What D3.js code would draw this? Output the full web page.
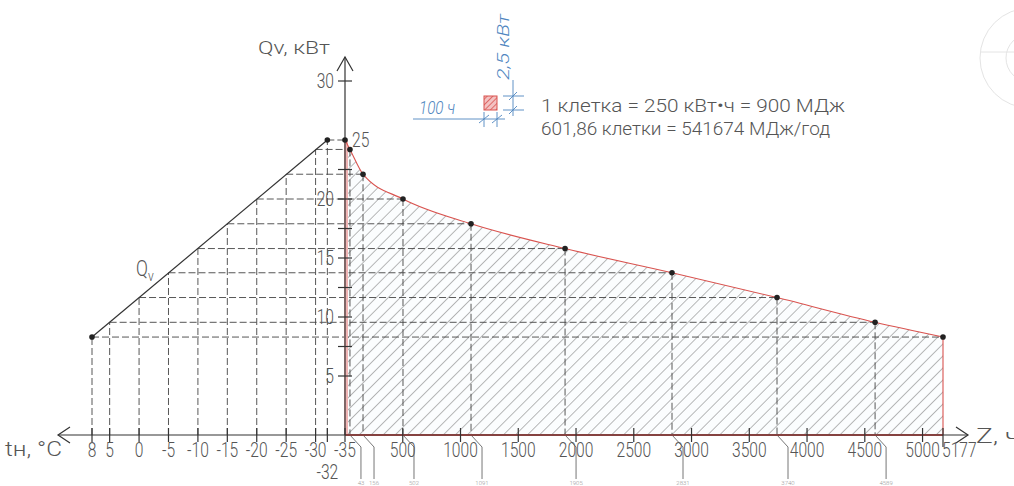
<html>
<head>
  <meta charset="utf-8">
  <script src="https://d3js.org/d3.v7.min.js"></script>
</head>
<style>
  body { margin: 0; background: #fff; }
  text { font-family: "Roboto", "DejaVu Sans", sans-serif; font-weight: 300; fill: #555; }
  .dash { stroke: #444; stroke-width: 0.9; stroke-dasharray: 7,3; fill: none; }
  .axis { stroke: #333; stroke-width: 1.2; fill: none; }
  .blue { fill: #4f86c0; font-style: italic; }
</style>
<body>
  <svg id="chart" width="1014" height="486"></svg>
  <script>
    // values
    const temps = [8, 5, 0, -5, -10, -15, -20, -25, -30, -32];
    const qv = [8.3, 9.55, 11.65, 13.75, 15.8, 17.9, 20.0, 22.1, 24.2, 25.0];
    const hours = [5177, 4589, 3740, 2831, 1905, 1091, 502, 156, 43, 0];

    const tempTicks = [8, 5, 0, -5, -10, -15, -20, -25, -30, -35];
    const hourTicks = [500, 1000, 1500, 2000, 2500, 3000, 3500, 4000, 4500, 5000];
    const qTicks = [5, 7.5, 10, 12.5, 15, 17.5, 20, 22.5, 30];
    const qLabels = [5, 10, 15, 20, 30];

    const svg = d3.select("svg#chart");

    const yQ = d3.scaleLinear().domain([0, 30]).range([435, 81]);
    const xT = d3.scaleLinear().domain([8, -35]).range([92, 345]);
    const xZ = d3.scaleLinear().domain([0, 5177]).range([345, 943]);
    const y0 = yQ(0);

    const data = temps.map((t, i) => ({ t: t, q: qv[i], z: hours[i] }));

    // narrow drawing-style lettering
    function label(g, x, y, str, size, anchor, sx) {
      return g.append("text")
        .attr("transform", `translate(${x},${y}) scale(${sx || 0.78},1)`)
        .attr("text-anchor", anchor || "start")
        .attr("font-size", size)
        .text(str);
    }

    // hatch patterns
    const defs = svg.append("defs");
    defs.append("pattern").attr("id", "hatch")
      .attr("patternUnits", "userSpaceOnUse").attr("width", 8.5).attr("height", 8.5)
      .attr("patternTransform", "rotate(45)")
      .append("line").attr("x1", 0).attr("y1", 0).attr("x2", 0).attr("y2", 8.5)
      .attr("stroke", "#5a5a5a").attr("stroke-width", 0.85);
    const ph = defs.append("pattern").attr("id", "hatchRed")
      .attr("patternUnits", "userSpaceOnUse").attr("width", 4).attr("height", 4)
      .attr("patternTransform", "rotate(45)");
    ph.append("rect").attr("width", 4).attr("height", 4).attr("fill", "#f3c2c2");
    ph.append("line").attr("x1", 0).attr("y1", 0).attr("x2", 0).attr("y2", 4)
      .attr("stroke", "#d9534f").attr("stroke-width", 1.6);

    // watermark circle top right
    const wm = svg.append("g").attr("stroke", "#e4e4e4").attr("fill", "none");
    wm.append("circle").attr("cx", 1030).attr("cy", 58).attr("r", 50);
    wm.append("circle").attr("cx", 1030).attr("cy", 58).attr("r", 24);
    wm.append("line").attr("x1", 980).attr("y1", 52).attr("x2", 1014).attr("y2", 52);

    // duration area (hatched)
    const sorted = data.slice().sort((a, b) => a.z - b.z);
    const area = d3.area()
      .x(d => xZ(d.z)).y0(y0).y1(d => yQ(d.q))
      .curve(d3.curveMonotoneX);
    svg.append("path").datum(sorted).attr("d", area).attr("fill", "#fbfdfe");
    svg.append("path").datum(sorted).attr("d", area).attr("fill", "url(#hatch)");

    // dashed construction lines
    const grid = svg.append("g");
    data.forEach(d => {
      grid.append("line").attr("class", "dash")
        .attr("x1", xT(d.t)).attr("y1", y0).attr("x2", xT(d.t)).attr("y2", yQ(d.q));
      grid.append("line").attr("class", "dash")
        .attr("x1", xT(d.t)).attr("y1", yQ(d.q)).attr("x2", xZ(d.z)).attr("y2", yQ(d.q));
      if (d.z > 0 && d.z < 5177) {
        grid.append("line").attr("class", "dash")
          .attr("x1", xZ(d.z)).attr("y1", yQ(d.q)).attr("x2", xZ(d.z)).attr("y2", y0);
      }
    });

    // leaders to small hour notes
    data.filter(d => d.z > 0 && d.z < 5177).forEach(d => {
      const x = xZ(d.z);
      svg.append("polyline")
        .attr("points", `${x},${y0} ${x + 11},${y0 + 12} ${x + 11},${y0 + 44}`)
        .attr("fill", "none").attr("stroke", "#666").attr("stroke-width", 0.9);
      svg.append("text").attr("x", x + 11).attr("y", 485)
        .attr("text-anchor", "middle").attr("font-size", 6).style("fill", "#999")
        .text(d.z);
    });

    // red outline of the area
    const line = d3.line().x(d => xZ(d.z)).y(d => yQ(d.q)).curve(d3.curveMonotoneX);
    svg.append("line").attr("x1", xZ(0) + 1).attr("y1", y0).attr("x2", xZ(0) + 1).attr("y2", yQ(25))
      .attr("stroke", "#f0b4b4").attr("stroke-width", 4);
    svg.append("path").datum(sorted).attr("d", line)
      .attr("fill", "none").attr("stroke", "#d9534f").attr("stroke-width", 1.1);
    svg.append("line").attr("x1", xZ(5177)).attr("y1", y0).attr("x2", xZ(5177)).attr("y2", yQ(qv[0]))
      .attr("stroke", "#d9534f").attr("stroke-width", 1.1);
    svg.append("line").attr("x1", xZ(0)).attr("y1", y0).attr("x2", xZ(5177)).attr("y2", y0)
      .attr("stroke", "#d9534f").attr("stroke-width", 2);

    // Qv line on the left
    svg.append("line").attr("class", "axis")
      .attr("x1", xT(temps[0])).attr("y1", yQ(qv[0]))
      .attr("x2", xT(-32)).attr("y2", yQ(25));
    const qvLabel = svg.append("text").attr("transform", "translate(136,276) scale(0.8,1)").attr("font-size", 22);
    qvLabel.append("tspan").text("Q");
    qvLabel.append("tspan").attr("dy", 5).attr("font-size", 15).text("v");

    // axes
    const ax = svg.append("g");
    ax.append("line").attr("class", "axis").attr("x1", 58).attr("y1", y0).attr("x2", 968).attr("y2", y0);
    ax.append("path").attr("class", "axis").attr("d", `M70,${y0 - 8} L58,${y0} L70,${y0 + 8}`);
    ax.append("path").attr("class", "axis").attr("d", `M956,${y0 - 8} L968,${y0} L956,${y0 + 8}`);
    ax.append("line").attr("class", "axis").attr("x1", 345).attr("y1", y0).attr("x2", 345).attr("y2", 57);
    ax.append("path").attr("class", "axis").attr("d", `M337,71 L345,57 L353,71`);

    // temperature ticks
    tempTicks.forEach(t => {
      ax.append("line").attr("class", "axis")
        .attr("x1", xT(t)).attr("y1", y0 - 7).attr("x2", xT(t)).attr("y2", y0 + 7);
      label(ax, xT(t), 457, t, 20, "middle");
    });
    ax.append("line").attr("class", "axis")
      .attr("x1", xT(-32)).attr("y1", y0 - 7).attr("x2", xT(-32)).attr("y2", y0 + 7);
    label(ax, xT(-32), 479, -32, 20, "middle");
    ax.append("text").attr("x", 5).attr("y", 456).attr("font-size", 20)
      .attr("textLength", 57).attr("lengthAdjust", "spacingAndGlyphs").text("tн, °С");

    // hour ticks
    hourTicks.forEach(z => {
      ax.append("line").attr("class", "axis")
        .attr("x1", xZ(z)).attr("y1", y0 - 7).attr("x2", xZ(z)).attr("y2", y0 + 7);
      label(ax, xZ(z), 457, z, 20, "middle");
    });
    ax.append("line").attr("class", "axis")
      .attr("x1", xZ(5177)).attr("y1", y0 - 7).attr("x2", xZ(5177)).attr("y2", y0 + 12);
    label(ax, xZ(5177) - 1, 457, 5177, 20, "start");
    ax.append("text").attr("x", 976).attr("y", 443).attr("font-size", 20)
      .attr("textLength", 44).attr("lengthAdjust", "spacingAndGlyphs").text("Z, ч");

    // Q ticks
    qTicks.forEach(q => {
      ax.append("line").attr("class", "axis")
        .attr("x1", 338).attr("y1", yQ(q)).attr("x2", 352).attr("y2", yQ(q));
    });
    qLabels.forEach(q => label(ax, 334, yQ(q) + 7, q, 20, "end"));
    label(ax, 352, yQ(25) + 7, 25, 20, "start");
    ax.append("text").attr("x", 258).attr("y", 54).attr("font-size", 19)
      .attr("textLength", 72).attr("lengthAdjust", "spacingAndGlyphs").text("Qv, кВт");

    // points
    svg.append("g").selectAll("circle").data(sorted).join("circle")
      .attr("cx", d => xZ(d.z)).attr("cy", d => yQ(d.q)).attr("r", 2.8).attr("fill", "#222");
    svg.append("circle").attr("cx", xT(temps[0])).attr("cy", yQ(qv[0])).attr("r", 2.8).attr("fill", "#222");
    svg.append("circle").attr("cx", xT(-32)).attr("cy", yQ(25)).attr("r", 2.8).attr("fill", "#222");

    // scale note (one cell)
    const note = svg.append("g").attr("stroke", "#4f86c0").attr("stroke-width", 0.9);
    note.append("line").attr("x1", 413).attr("y1", 119).attr("x2", 505).attr("y2", 119);
    note.append("line").attr("x1", 484).attr("y1", 112).attr("x2", 484).attr("y2", 127);
    note.append("line").attr("x1", 497).attr("y1", 112).attr("x2", 497).attr("y2", 127);
    note.append("line").attr("x1", 479).attr("y1", 123).attr("x2", 489).attr("y2", 115);
    note.append("line").attr("x1", 492).attr("y1", 123).attr("x2", 502).attr("y2", 115);
    note.append("line").attr("x1", 513).attr("y1", 80).attr("x2", 513).attr("y2", 116);
    note.append("line").attr("x1", 503).attr("y1", 96).attr("x2", 524).attr("y2", 96);
    note.append("line").attr("x1", 503).attr("y1", 110).attr("x2", 524).attr("y2", 110);
    note.append("line").attr("x1", 509).attr("y1", 100).attr("x2", 517).attr("y2", 92);
    note.append("line").attr("x1", 509).attr("y1", 114).attr("x2", 517).attr("y2", 106);
    svg.append("rect").attr("x", 484).attr("y", 96).attr("width", 13).attr("height", 14)
      .attr("fill", "url(#hatchRed)").attr("stroke", "#d9534f").attr("stroke-width", 1);
    svg.append("text").attr("class", "blue").attr("x", 419).attr("y", 114)
      .attr("font-size", 18).attr("textLength", 36).attr("lengthAdjust", "spacingAndGlyphs").text("100 ч");
    svg.append("text").attr("class", "blue").attr("transform", "translate(509,80) rotate(-90)")
      .attr("font-size", 17).attr("textLength", 66).attr("lengthAdjust", "spacingAndGlyphs").text("2,5 кВт");

    svg.append("text").attr("x", 541).attr("y", 112).attr("font-size", 19)
      .attr("textLength", 304).attr("lengthAdjust", "spacingAndGlyphs")
      .text("1 клетка = 250 кВт•ч = 900 МДж");
    svg.append("text").attr("x", 541).attr("y", 135).attr("font-size", 19)
      .attr("textLength", 289).attr("lengthAdjust", "spacingAndGlyphs")
      .text("601,86 клетки = 541674 МДж/год");
  </script>
</body>
</html>
